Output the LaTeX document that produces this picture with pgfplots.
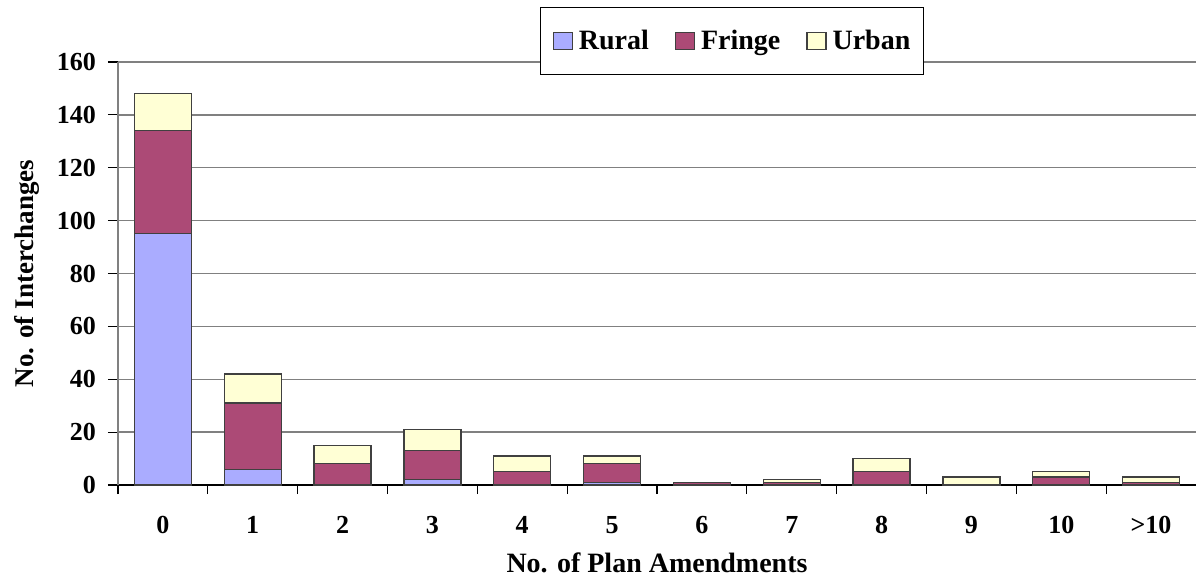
\documentclass[border=0pt]{standalone}
\usepackage{fontspec}
\setmainfont{Liberation Serif}
\usepackage{pgfplots}
\pgfplotsset{compat=1.18}
\definecolor{rural}{RGB}{170,172,255}
\definecolor{fringe}{RGB}{172,74,118}
\definecolor{urban}{RGB}{255,255,213}
\definecolor{gridgray}{RGB}{128,128,128}
\begin{document}
\begin{tikzpicture}
\path[use as bounding box] (0,0) rectangle (598pt,290pt);
\begin{axis}[
  scale only axis, width=539pt, height=211.5pt,
  at={(59pt,47.5pt)}, anchor=south west,
  ybar stacked, bar width=28.5pt,
  xmin=-0.5, xmax=11.5, ymin=0, ymax=160,
  xtick={0,1,...,11},
  xticklabels={0,1,2,3,4,5,6,7,8,9,10,{>10}},
  major x tick style={draw=none},
  minor xtick={-0.5,0.5,1.5,...,10.5},
  minor x tick style={draw=black, line width=0.6pt},
  minor tick length=4.5pt,
  ytick={0,20,...,160},
  major y tick style={draw=black, line width=0.6pt},
  major tick length=5pt,
  tick align=outside,
  ymajorgrids,
  grid style={gridgray, line width=0.7pt},
  axis x line*=bottom, axis y line*=left,
  x axis line style={-, black, line width=0.7pt},
  y axis line style={-, gridgray, line width=0.8pt},
  /pgf/number format/assume math mode=true,
  tick label style={font=\fontsize{13}{15}\selectfont\bfseries},
  xticklabel style={yshift=-7pt},
  yticklabel style={xshift=-2.5pt},
  xlabel={No. of Plan Amendments},
  ylabel={No. of Interchanges},
  every axis x label/.style={at={(axis description cs:0.5,-0.1844)}, anchor=center, font=\fontsize{14}{16}\selectfont\bfseries},
  every axis y label/.style={at={(axis description cs:-0.0844,0.5)}, rotate=90, anchor=center, font=\fontsize{13.5}{16}\selectfont\bfseries},
  every axis plot/.append style={draw=black!75, line width=0.6pt},
  legend image code/.code={\draw[#1, line width=0.6pt] (0pt,-4.25pt) rectangle (9.5pt,4.25pt);},
  legend style={at={(axis description cs:0.5696,1.0496)}, anchor=center,
    legend columns=3, draw=black, fill=white, line width=0.6pt,
    font=\fontsize{14}{16}\selectfont\bfseries,
    inner xsep=6pt, inner ysep=10.5pt,
    nodes={inner sep=0.5pt},
    /tikz/every odd column/.append style={column sep=2.5pt},
    /tikz/every even column/.append style={column sep=12.5pt}},
]
\addplot[fill=rural] coordinates {(0,95) (1,6) (2,0) (3,2) (4,0) (5,1) (6,0) (7,0) (8,0) (9,0) (10,0) (11,0)};
\addplot[fill=fringe] coordinates {(0,39) (1,25) (2,8) (3,11) (4,5) (5,7) (6,1) (7,1) (8,5) (9,0) (10,3) (11,1)};
\addplot[fill=urban] coordinates {(0,14) (1,11) (2,7) (3,8) (4,6) (5,3) (6,0) (7,1) (8,5) (9,3) (10,2) (11,2)};
\legend{Rural, Fringe, Urban}
\end{axis}
\end{tikzpicture}
\end{document}
